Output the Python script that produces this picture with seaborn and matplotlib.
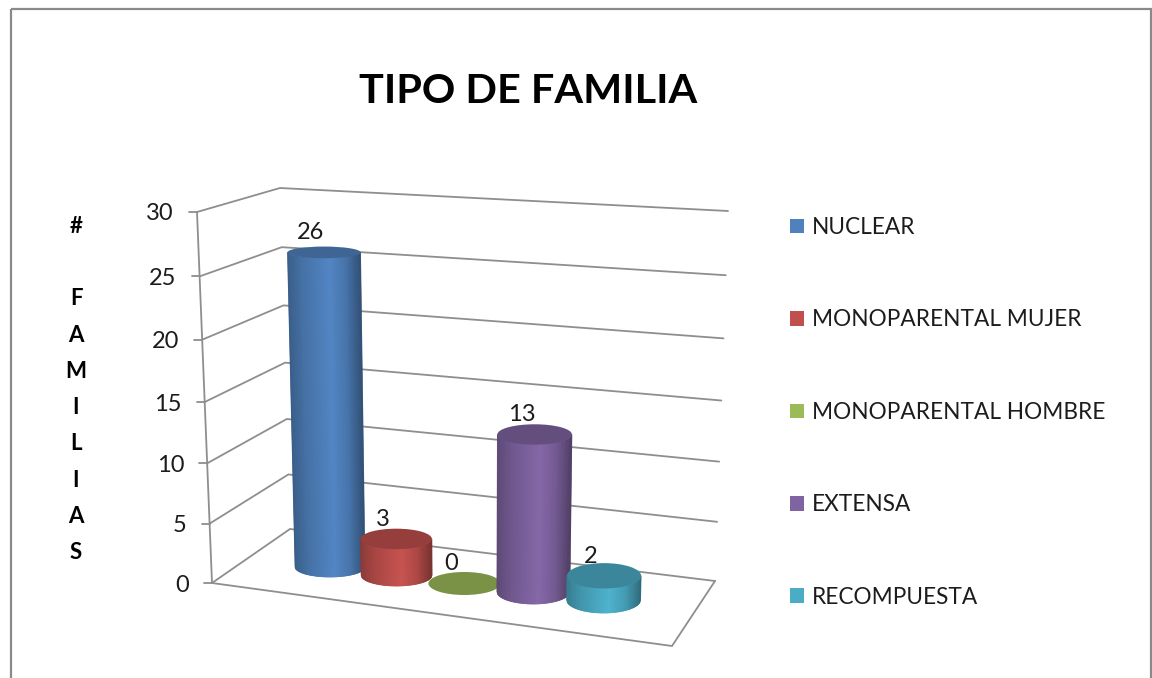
import numpy as np
import matplotlib
matplotlib.use("Agg")
import matplotlib.pyplot as plt
from matplotlib.collections import PolyCollection
from matplotlib.patches import Ellipse, Patch, Rectangle
from matplotlib.transforms import Affine2D
import seaborn as sns

categories = ["NUCLEAR", "MONOPARENTAL MUJER", "MONOPARENTAL HOMBRE", "EXTENSA", "RECOMPUESTA"]
values = [26, 3, 0, 13, 2]
colors = ["#4F81BD", "#C0504D", "#9BBB59", "#8064A2", "#4BACC6"]
y_ticks = [0, 5, 10, 15, 20, 25, 30]
title = "TIPO DE FAMILIA"
y_title = "#\n\nF\nA\nM\nI\nL\nI\nA\nS"

sns.set_theme(style="white")
plt.rcParams["font.family"] = ["Lato", "DejaVu Sans"]
TEXT = "#1c1c1c"
GRID = "#8e8e8e"

fig = plt.figure(figsize=(11.52, 6.78), dpi=100, facecolor="white")
ax = fig.add_axes([0, 0, 1, 1])

sns.barplot(x=categories, y=values, hue=categories, palette=colors, dodge=False,
            legend=False, width=0.8, ax=ax, saturation=1)
ax.set_xlim(0, 1152)
ax.set_ylim(678, 0)
ax.axis("off")


# projection of the 3D chart box: value -> wall corners, category -> floor position
def lerp(a, b, t):
    return a + (b - a) * t


def warp(v):
    t = v / 30
    return t / (1 + 0.05 * (1 - t))


def front_left(v):
    t = warp(v)
    return lerp(212, 197, t), lerp(583, 212, t)


def back_left(v):
    t = warp(v)
    return lerp(290, 280, t), lerp(529, 188, t)


def back_right(v):
    t = warp(v)
    return lerp(715, 728, t), lerp(581, 211, t)


UNIT = 12.1


def base_x(i):
    return 330 + 66 * i + 0.6 * i * i


def base_y(i):
    return 567 + 8.25 * i


def lean(x):
    return -0.23 + (x - 330) * 0.0016


# walls and floor
for v in y_ticks:
    p = [front_left(v), back_left(v), back_right(v)]
    ax.plot(*zip(*p), color=GRID, lw=1.3, zorder=1, solid_joinstyle="miter")
    fx, fy = front_left(v)
    ax.plot([fx - 8, fx], [fy, fy], color=GRID, lw=1.3, zorder=1)
    ax.text(fx - 23, fy, str(v), ha="right", va="center_baseline", fontsize=17, color=TEXT)
ax.plot(*zip(front_left(0), front_left(30)), color=GRID, lw=1.3, zorder=1)
ax.plot([212, 672, 715], [583, 646, 581], color=GRID, lw=1.3, zorder=1, solid_joinstyle="miter")


def shade(color, f):
    rgb = np.array(matplotlib.colors.to_rgb(color))
    return tuple(np.clip(rgb * f, 0, 1))


# cylinders, built on the bars seaborn drew
for zi, (bar, value, color) in enumerate(zip(ax.patches, values, colors)):
    i = int(round(bar.get_x() + bar.get_width() / 2))
    height = bar.get_height()
    cx0, cy0 = base_x(i), base_y(i)
    cx1 = cx0 + height * lean(cx0)
    cy1 = cy0 - height * UNIT
    rx0 = 35 + 0.5 * i
    rx1 = rx0 + 0.06 * height
    ry0 = 10 + 0.75 * i
    ry1 = ry0 - 0.16 * height
    z = 3 + zi
    bar.set_transform(Affine2D().translate(-i, 0).scale(66, -UNIT).translate(cx0, cy0) + ax.transData)
    bar.set_zorder(z)
    if height > 0:
        us = np.linspace(-1, 1, 91)
        polys, fcs = [], []
        for u0, u1 in zip(us[:-1], us[1:]):
            s0, s1 = np.sqrt(1 - u0 * u0), np.sqrt(1 - u1 * u1)
            polys.append([(cx0 + rx0 * u0, cy0 + ry0 * s0), (cx0 + rx0 * u1, cy0 + ry0 * s1),
                          (cx1 + rx1 * u1, cy1 + ry1 * s1), (cx1 + rx1 * u0, cy1 + ry1 * s0)])
            um = (u0 + u1) / 2
            fcs.append(shade(color, np.interp(um, [-1, -0.6, 0.15, 0.6, 1], [0.72, 0.87, 1.04, 0.90, 0.62])))
        ax.add_collection(PolyCollection(polys, facecolors=fcs, edgecolors=fcs, linewidths=0.5, zorder=z), autolim=False)
    ax.add_patch(Ellipse((cx1, cy1), 2 * rx1, 2 * ry1, facecolor=shade(color, 0.78), edgecolor="none", zorder=z))
    ax.text(cx1 - 13, cy1 - 21.5, str(value), ha="center", va="center_baseline", fontsize=17, color=TEXT, zorder=20)

# titles and frame
ax.text(528.5, 88, title, ha="center", va="center_baseline", fontsize=29.8, fontweight="bold", color="black")
ax.text(76, 389.5, y_title, ha="center", va="center", fontsize=16, fontweight="bold", color="black", linespacing=1.895)
ax.add_patch(Rectangle((10.5, 8.5), 1140, 700, facecolor="none", edgecolor="#8a8a8a", lw=1.6, zorder=0))

# legend
handles = [Patch(facecolor=c, edgecolor="none") for c in colors]
ax.legend(handles, categories, loc="upper left", bbox_to_anchor=(790, 217), bbox_transform=ax.transData,
          frameon=False, fontsize=16.3, handlelength=0.62, handleheight=0.62, handletextpad=0.36,
          labelspacing=3.155, borderpad=0, borderaxespad=0, labelcolor=TEXT)

fig.savefig("out.png", dpi=100)
